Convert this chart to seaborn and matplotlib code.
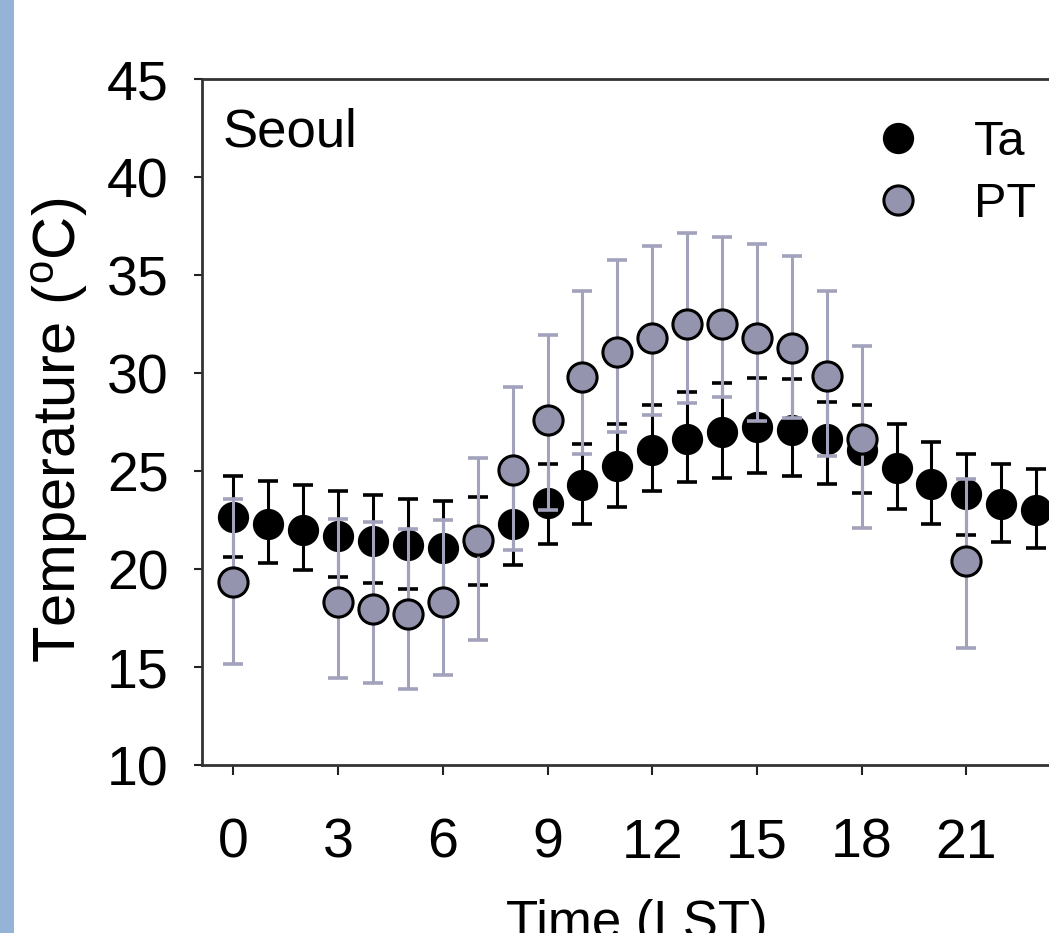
import numpy as np
import pandas as pd
import matplotlib
matplotlib.use("Agg")
import matplotlib.pyplot as plt
from matplotlib.lines import Line2D
from matplotlib.patches import Rectangle
import seaborn as sns

# ---- data ----
hours = list(range(24))
ta_mean = [22.66, 22.30, 21.99, 21.70, 21.43, 21.20, 21.07, 21.40, 22.29, 23.35, 24.29, 25.26,
           26.05, 26.62, 27.01, 27.22, 27.09, 26.62, 26.07, 25.14, 24.34, 23.81, 23.32, 22.99]
ta_low = [20.63, 20.29, 19.95, 19.58, 19.27, 18.96, 18.75, 19.17, 20.20, 21.28, 22.28, 23.18,
          23.98, 24.45, 24.66, 24.88, 24.76, 24.34, 23.87, 23.08, 22.28, 21.73, 21.38, 21.06]
ta_high = [24.76, 24.47, 24.29, 23.96, 23.76, 23.56, 23.45, 23.66, 25.39, 25.34, 26.36, 27.38,
           28.37, 29.05, 29.47, 29.76, 29.71, 28.50, 28.37, 27.38, 26.46, 25.87, 25.34, 25.09]
nan = np.nan
pt_mean = [19.32, nan, nan, 18.34, 17.98, 17.69, 18.34, 21.48, 25.05, 27.60, 29.81, 31.05,
           31.77, 32.50, 32.50, 31.80, 31.29, 29.86, 26.62, nan, nan, 20.43, nan, nan]
pt_low = [15.14, nan, nan, 14.42, 14.20, 13.88, 14.58, 16.38, 20.97, 23.00, 25.87, 26.98,
          27.86, 28.45, 28.79, 27.57, 27.69, 25.77, 22.08, nan, nan, 15.99, nan, nan]
pt_high = [23.57, nan, nan, 22.55, 22.38, 22.03, 22.52, 25.65, 29.27, 31.94, 34.17, 35.77,
           36.48, 37.13, 36.92, 36.57, 35.99, 34.18, 31.40, nan, nan, 24.58, nan, nan]
series_labels = ["Ta", "PT"]
x_ticks = [0, 3, 6, 9, 12, 15, 18, 21]
y_ticks = [10, 15, 20, 25, 30, 35, 40, 45]

df = pd.DataFrame({"hour": hours, "Ta": ta_mean, "Ta_lo": ta_low, "Ta_hi": ta_high,
                   "PT": pt_mean, "PT_lo": pt_low, "PT_hi": pt_high})

# ---- style ----
sns.set_theme(style="ticks")
plt.rcParams["font.family"] = ["Liberation Sans", "DejaVu Sans"]
plt.rcParams["mathtext.fontset"] = "custom"
plt.rcParams["mathtext.rm"] = "Liberation Sans"
plt.rcParams["mathtext.it"] = "Liberation Sans:italic"
plt.rcParams["text.color"] = "black"

W, H = 1049, 933
fig = plt.figure(figsize=(W / 100, H / 100), dpi=100)
fig.patch.set_facecolor("white")
# left decorative strip
fig.patches.append(Rectangle((0, 0), 14 / W, 1, transform=fig.transFigure,
                             facecolor="#95B3D7", edgecolor="none", zorder=0))

ax = fig.add_axes([202 / W, 168 / H, 869 / W, 686 / H])
ax.set_facecolor("white")

ta_color = "black"
pt_fill = "#9494AE"
pt_bar = "#A2A2BC"
msize = 21

# Ta
ax.errorbar(df["hour"], df["Ta"], yerr=[df["Ta"] - df["Ta_lo"], df["Ta_hi"] - df["Ta"]],
            fmt="none", ecolor=ta_color, elinewidth=2.2, capsize=7, capthick=2.6, zorder=2)
sns.scatterplot(data=df, x="hour", y="Ta", ax=ax, s=msize ** 2, color=ta_color,
                edgecolor="black", linewidth=1.5, zorder=3, legend=False)
# PT
pt = df.dropna(subset=["PT"])
ax.errorbar(pt["hour"], pt["PT"], yerr=[pt["PT"] - pt["PT_lo"], pt["PT_hi"] - pt["PT"]],
            fmt="none", ecolor=pt_bar, elinewidth=2.2, capsize=7, capthick=2.6, zorder=4)
sns.scatterplot(data=pt, x="hour", y="PT", ax=ax, s=msize ** 2, color=pt_fill,
                edgecolor="black", linewidth=2.2, zorder=5, legend=False)

ax.set_xlim(-0.9, 24.0)
ax.set_ylim(10, 45)
ax.set_xticks(x_ticks)
ax.set_yticks(y_ticks)
ax.tick_params(axis="both", direction="out", width=1.5, color="#222222",
               labelsize=40, labelcolor="black")
ax.tick_params(axis="y", length=6, pad=18)
ax.tick_params(axis="x", length=7, pad=31)
for s in ["left", "bottom", "top", "right"]:
    ax.spines[s].set_linewidth(2)
    ax.spines[s].set_color("#333333")

ax.set_xlabel("Time (LST)", fontsize=38, labelpad=21, color="black")
ax.set_ylabel("Temperature ($^{\\rm o}$C)", fontsize=43, color="black")
ax.yaxis.set_label_coords(-0.128, 0.488)

ax.text(0.024, 0.901, "Seoul", transform=ax.transAxes, fontsize=38,
        ha="left", va="baseline", color="black")

handles = [
    Line2D([], [], linestyle="none", marker="o", markersize=msize, markerfacecolor=ta_color,
           markeredgecolor="black", markeredgewidth=1.5),
    Line2D([], [], linestyle="none", marker="o", markersize=msize, markerfacecolor=pt_fill,
           markeredgecolor="black", markeredgewidth=2.2),
]
leg = ax.legend(handles, series_labels, loc="center left", frameon=False, fontsize=35,
                bbox_to_anchor=(874 / W, (933 - 173.5) / H), bbox_transform=fig.transFigure,
                handletextpad=1.05, labelspacing=0.35, borderpad=0, handlelength=1.0,
                borderaxespad=0)
for t in leg.get_texts():
    t.set_color("black")

fig.savefig("out.png", dpi=100)
